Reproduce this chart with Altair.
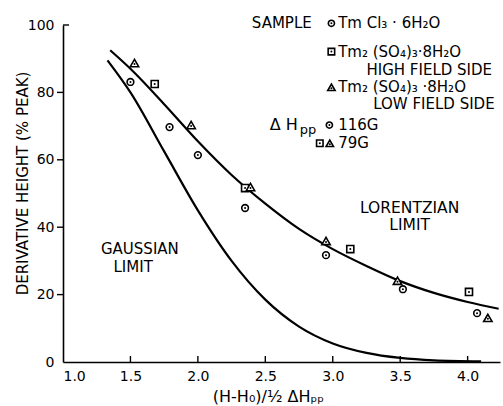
import altair as alt
import pandas as pd

# ---- data ----
lor_x = [1.35, 1.5, 1.75, 2.0, 2.25, 2.5, 2.75, 3.0, 3.25, 3.5, 3.75, 4.0, 4.23]
lor_y = [92.5, 87.0, 76.5, 65.5, 55.5, 47.0, 39.5, 33.5, 28.5, 24.0, 20.5, 17.8, 15.8]

gau_x = [1.33, 1.5, 1.75, 2.0, 2.25, 2.5, 2.75, 3.0, 3.25, 3.5, 3.75, 4.1]
gau_y = [89.5, 80.0, 62.5, 45.0, 30.0, 18.5, 10.5, 5.5, 2.7, 1.2, 0.5, 0.2]

circle_x = [1.50, 1.79, 2.00, 2.35, 2.95, 3.52, 4.07]
circle_y = [83.1, 69.7, 61.4, 45.7, 31.7, 21.6, 14.5]
square_x = [1.68, 2.35, 3.13, 4.01]
square_y = [82.5, 51.6, 33.5, 20.8]
tri_x = [1.53, 1.95, 2.39, 2.95, 3.48, 4.15]
tri_y = [88.7, 70.3, 51.9, 35.9, 24.1, 13.1]

x_ticks = [1.0, 1.5, 2.0, 2.5, 3.0, 3.5, 4.0]
y_ticks = [0, 20, 40, 60, 80, 100]

# legend / annotation texts
legend_texts = ["SAMPLE", "Tm Cl\u2083 \u00b7 6H\u2082O", "Tm\u2082 (SO\u2084)\u2083\u00b78H\u2082O",
                "HIGH FIELD SIDE", "Tm\u2082 (SO\u2084)\u2083 \u00b78H\u2082O", "LOW FIELD SIDE"]
legend_x = [2.40, 3.04, 3.04, 3.25, 3.04, 3.30]
legend_y = [100.6, 100.6, 92.1, 86.6, 81.5, 76.6]

width_texts = ["116G", "79G"]
width_x = [3.04, 3.04]
width_y = [70.3, 64.9]

dh_texts = ["\u0394 H"]
dh_x = [2.533]
dh_y = [70.3]

sub_texts = ["pp"]
sub_x = [2.756]
sub_y = [68.9]

gauss_texts = ["GAUSSIAN", "LIMIT"]
gauss_x = [1.57, 1.52]
gauss_y = [33.4, 28.2]

lorentz_texts = ["LORENTZIAN", "LIMIT"]
lorentz_x = [3.57, 3.57]
lorentz_y = [45.7, 40.7]

sym_circle_x = [2.99, 2.975]
sym_circle_y = [100.5, 70.3]
sym_square_x = [2.99, 2.904]
sym_square_y = [92.1, 64.9]
sym_tri_x = [2.99, 2.978]
sym_tri_y = [81.5, 64.9]

FONT = "DejaVu Sans"
XDOM = [1.0, 4.24]
YDOM = [0, 100]

xs = alt.Scale(domain=XDOM, nice=False, zero=False)
ys = alt.Scale(domain=YDOM, nice=False)

lor = pd.DataFrame({"x": lor_x, "y": lor_y})
gau = pd.DataFrame({"x": gau_x, "y": gau_y})

x_enc = alt.X("x:Q", scale=xs,
              axis=alt.Axis(values=x_ticks, format=".1f", ticks=False, grid=False,
                            labelFont=FONT, labelFontSize=14, labelColor="black",
                            labelPadding=7, domainColor="black", domainWidth=1.6,
                            title="(H-H\u2080)/\u00bd \u0394H\u209a\u209a", titleFont=FONT,
                            titleFontSize=16, titleFontWeight="normal", titleColor="black",
                            titleX=205, titleY=39, titleAlign="center",
                            titleBaseline="alphabetic"))
y_enc = alt.Y("y:Q", scale=ys,
              axis=alt.Axis(values=y_ticks, format="d", ticks=False, grid=False,
                            labelFont=FONT, labelFontSize=14, labelColor="black",
                            labelPadding=9, domainColor="black", domainWidth=1.6,
                            title="DERIVATIVE HEIGHT (% PEAK)", titleFont=FONT,
                            titleFontSize=15, titleFontWeight="normal", titleColor="black",
                            titleX=-41, titleY=158, titleAlign="center",
                            titleBaseline="middle", titleAngle=-90))

base_lor = alt.Chart(lor).mark_line(color="black", strokeWidth=2.2, interpolate="monotone").encode(
    x=x_enc, y=y_enc)
base_gau = alt.Chart(gau).mark_line(color="black", strokeWidth=2.2, interpolate="monotone").encode(
    x=alt.X("x:Q", scale=xs), y=alt.Y("y:Q", scale=ys))


def pts(xv, yv, shape, size, dot_dy=0):
    df = pd.DataFrame({"x": xv, "y": yv})
    outer = alt.Chart(df).mark_point(shape=shape, size=size, filled=False, stroke="black",
                                     strokeWidth=1.6, fill="white", fillOpacity=1, opacity=1).encode(
        x=alt.X("x:Q", scale=xs), y=alt.Y("y:Q", scale=ys))
    inner = alt.Chart(df).mark_point(shape="circle", size=4, filled=True, color="black",
                                     opacity=1, yOffset=dot_dy).encode(
        x=alt.X("x:Q", scale=xs), y=alt.Y("y:Q", scale=ys))
    return outer + inner


def texts(tv, xv, yv, size, align="left"):
    df = pd.DataFrame({"x": xv, "y": yv, "t": tv})
    return alt.Chart(df).mark_text(align=align, baseline="middle", font=FONT, fontSize=size,
                                   color="black").encode(
        x=alt.X("x:Q", scale=xs), y=alt.Y("y:Q", scale=ys), text="t:N")


circles = pts(circle_x, circle_y, "circle", 45)
squares = pts(square_x, square_y, "square", 50)
tris = pts(tri_x, tri_y, "triangle-up", 70, dot_dy=1)

sym_c = pts(sym_circle_x, sym_circle_y, "circle", 38)
sym_s = pts(sym_square_x, sym_square_y, "square", 42)
sym_t = pts(sym_tri_x, sym_tri_y, "triangle-up", 55, dot_dy=1)

leg_text = texts(legend_texts, legend_x, legend_y, 15)
wid_text = texts(width_texts, width_x, width_y, 15)
dh_text = texts(dh_texts, dh_x, dh_y, 16)
sub_text = texts(sub_texts, sub_x, sub_y, 13)
gauss_text = texts(gauss_texts, gauss_x, gauss_y, 15, align="center")
lorentz_text = texts(lorentz_texts, lorentz_x, lorentz_y, 15.5, align="center")

# inward x ticks, outward y ticks (top one points inward as in the reference)
xt = pd.DataFrame({"x": x_ticks[1:]})
xtick = alt.Chart(xt).mark_rule(color="black", strokeWidth=1.4).encode(
    x=alt.X("x:Q", scale=xs), y=alt.value(337), y2=alt.value(331))
yt = pd.DataFrame({"y": y_ticks[1:-1]})
ytick = alt.Chart(yt).mark_rule(color="black", strokeWidth=1.4).encode(
    y=alt.Y("y:Q", scale=ys), x=alt.value(-6), x2=alt.value(0))
yt_top = pd.DataFrame({"y": y_ticks[-1:]})
ytick_top = alt.Chart(yt_top).mark_rule(color="black", strokeWidth=1.4).encode(
    y=alt.Y("y:Q", scale=ys), x=alt.value(0), x2=alt.value(6))

chart = alt.layer(
    base_lor, base_gau, xtick, ytick, ytick_top,
    circles, squares, tris, sym_c, sym_s, sym_t,
    leg_text, wid_text, dh_text, sub_text, gauss_text, lorentz_text
).properties(
    width=437, height=337,
    autosize=alt.AutoSizeParams(type="none"),
    padding={"left": 63, "top": 25, "right": 3, "bottom": 44},
    background="white"
).configure_view(stroke=None)

chart.save("out.html", embed_options={"renderer": "svg", "actions": False})
